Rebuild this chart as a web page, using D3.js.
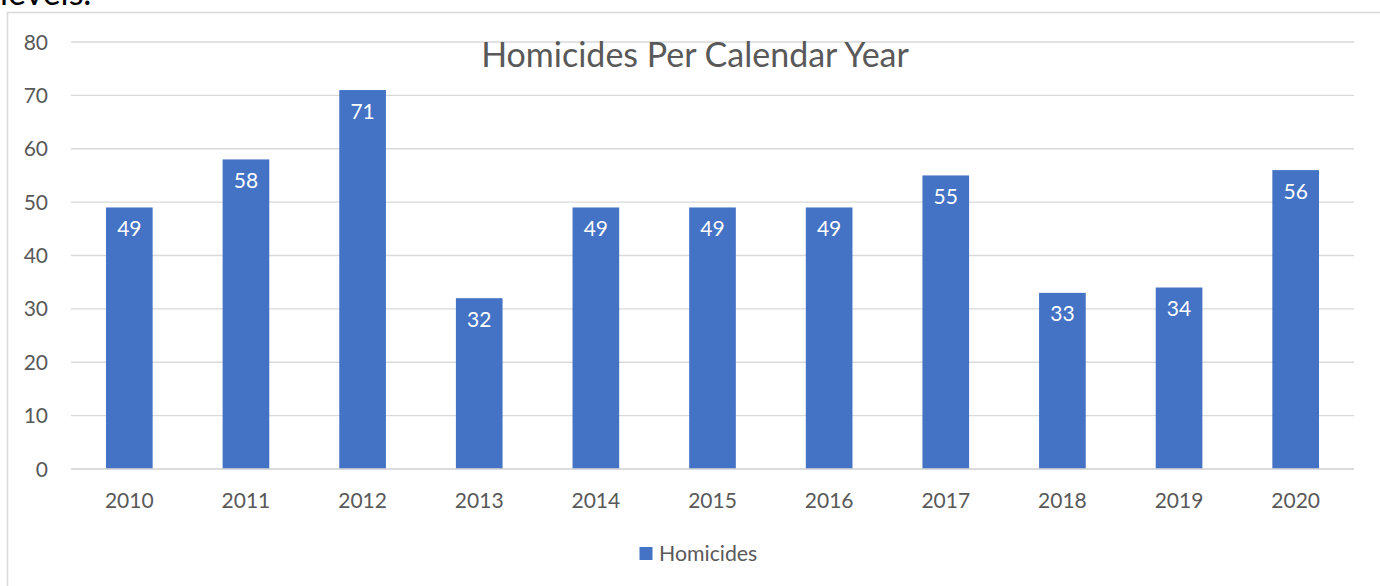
<!DOCTYPE html>
<html>
<head>
<meta charset="utf-8">
<script src="https://cdn.jsdelivr.net/npm/d3@7"></script>
<style>
  html, body { margin: 0; padding: 0; background: #fff; }
  svg { display: block; font-family: Lato, "Open Sans", sans-serif; }
</style>
</head>
<body>
<svg id="chart" width="1380" height="586"></svg>
<script>
const categories = ["2010","2011","2012","2013","2014","2015","2016","2017","2018","2019","2020"];
const homicides = [49, 58, 71, 32, 49, 49, 49, 55, 33, 34, 56];
const yTicks = [0, 10, 20, 30, 40, 50, 60, 70, 80];
const title = "Homicides Per Calendar Year";
const seriesName = "Homicides";

const svg = d3.select("#chart");
const textColor = "#595959";
const barColor = "#4472C4";
const gridColor = "#D9D9D9";

// clipped paragraph text above the chart
svg.append("text")
  .attr("x", 0).attr("y", 5)
  .attr("font-size", 34)
  .attr("fill", "#000")
  .text("levels.");

// chart frame
svg.append("rect")
  .attr("x", 7.5).attr("y", 12.5)
  .attr("width", 1400).attr("height", 600)
  .attr("fill", "#fff")
  .attr("stroke", gridColor).attr("stroke-width", 1.5);

const x0 = 71, x1 = 1354;
const y = d3.scaleLinear().domain([0, 80]).range([469, 42]);
const x = d3.scaleBand().domain(categories).range([x0, x1]).paddingInner(0.6).paddingOuter(0.3);

// gridlines
svg.append("g").selectAll("line").data(yTicks).join("line")
  .attr("x1", x0).attr("x2", x1)
  .attr("y1", d => y(d)).attr("y2", d => y(d))
  .attr("stroke", gridColor).attr("stroke-width", 1.4);

// y labels
svg.append("g").selectAll("text").data(yTicks).join("text")
  .attr("x", 48).attr("y", d => y(d))
  .attr("dy", "0.36em")
  .attr("text-anchor", "end")
  .attr("font-size", 21)
  .attr("fill", textColor)
  .text(d => d);

// bars
svg.append("g").selectAll("rect").data(homicides).join("rect")
  .attr("x", (d, i) => x(categories[i]))
  .attr("width", x.bandwidth())
  .attr("y", d => y(d))
  .attr("height", d => y(0) - y(d))
  .attr("fill", barColor);

// baseline
svg.append("line")
  .attr("x1", x0).attr("x2", x1)
  .attr("y1", y(0)).attr("y2", y(0))
  .attr("stroke", gridColor).attr("stroke-width", 1.4);

// data labels
svg.append("g").selectAll("text").data(homicides).join("text")
  .attr("x", (d, i) => x(categories[i]) + x.bandwidth() / 2)
  .attr("y", d => y(d) + 21)
  .attr("dy", "0.36em")
  .attr("text-anchor", "middle")
  .attr("font-size", 21)
  .attr("fill", "#fff")
  .text(d => d);

// x labels
svg.append("g").selectAll("text").data(categories).join("text")
  .attr("x", d => x(d) + x.bandwidth() / 2)
  .attr("y", 508)
  .attr("text-anchor", "middle")
  .attr("font-size", 21)
  .attr("fill", textColor)
  .text(d => d);

// title
svg.append("text")
  .attr("x", 695).attr("y", 67)
  .attr("text-anchor", "middle")
  .attr("font-size", 34)
  .attr("fill", textColor)
  .text(title);

// legend
svg.append("rect")
  .attr("x", 639.5).attr("y", 547).attr("width", 13).attr("height", 13)
  .attr("fill", barColor);
svg.append("text")
  .attr("x", 659).attr("y", 561)
  .attr("font-size", 21.3)
  .attr("fill", textColor)
  .text(seriesName);
</script>
</body>
</html>
